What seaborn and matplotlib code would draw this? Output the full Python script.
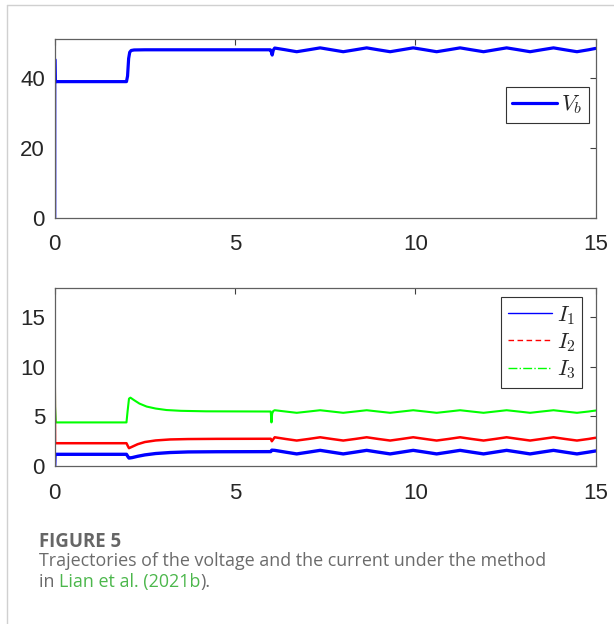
import matplotlib
matplotlib.use("Agg")
import matplotlib.pyplot as plt
from matplotlib.lines import Line2D
import seaborn as sns

### data
# common time points of the slow oscillation after t = 6
t_osc = [6.1, 6.4, 6.71, 7.04, 7.36, 7.68, 8.0, 8.33, 8.65, 8.97, 9.3, 9.62,
         9.94, 10.27, 10.59, 10.92, 11.24, 11.56, 11.89, 12.21, 12.53, 12.86,
         13.18, 13.5, 13.83, 14.15, 14.48, 14.8, 15.0]

# battery voltage V_b
t_vb = [0, 0.001, 0.01, 0.04, 1.99, 2.02, 2.05, 2.08, 2.12, 2.2, 2.5, 4.0,
        5.98, 6.0, 6.03, 6.06]
vb = [0, 45.3, 39.5, 38.9, 38.9, 40.5, 45.5, 47.3, 47.8, 47.95, 48.0, 48.0,
      48.0, 47.6, 46.5, 47.9]
vb_osc = [48.5, 48.0, 47.45, 48.0, 48.55, 48.0, 47.45, 48.0, 48.55, 48.0,
          47.45, 48.0, 48.55, 48.0, 47.45, 48.0, 48.55, 48.0, 47.45, 48.0,
          48.55, 48.0, 47.45, 48.0, 48.55, 48.0, 47.45, 48.0, 48.4]

# currents
t_i1 = [0, 0.01, 1.99, 2.03, 2.06, 2.15, 2.3, 2.5, 2.8, 3.2, 3.7, 4.5, 5.99, 6.02]
i1 = [0, 1.18, 1.18, 0.95, 0.8, 0.85, 0.98, 1.12, 1.26, 1.36, 1.42, 1.44, 1.45, 1.6]
i1_osc = [1.58, 1.4, 1.22, 1.4, 1.58, 1.4, 1.22, 1.4, 1.58, 1.4, 1.22, 1.4,
          1.58, 1.4, 1.22, 1.4, 1.58, 1.4, 1.22, 1.4, 1.58, 1.4, 1.22, 1.4,
          1.58, 1.4, 1.22, 1.4, 1.52]

t_i2 = [0, 0.001, 0.01, 1.99, 2.03, 2.06, 2.15, 2.3, 2.5, 2.8, 3.2, 3.7, 4.5,
        5.99, 6.02]
i2 = [0, 8.5, 2.3, 2.3, 2.0, 1.8, 1.95, 2.2, 2.42, 2.58, 2.68, 2.72, 2.74,
      2.75, 2.5]
i2_osc = [2.9, 2.73, 2.57, 2.73, 2.9, 2.73, 2.57, 2.73, 2.9, 2.73, 2.57, 2.73,
          2.9, 2.73, 2.57, 2.73, 2.9, 2.73, 2.57, 2.73, 2.9, 2.73, 2.57, 2.73,
          2.9, 2.73, 2.57, 2.73, 2.85]

t_i3 = [0, 0.001, 0.01, 0.03, 1.99, 2.02, 2.06, 2.1, 2.2, 2.35, 2.55, 2.8,
        3.1, 3.5, 4.2, 5.99, 6.01, 6.03, 6.06]
i3 = [0, 11.9, 6.0, 4.4, 4.4, 5.5, 6.8, 6.9, 6.65, 6.3, 6.0, 5.8, 5.65,
      5.57, 5.52, 5.5, 4.4, 5.3, 5.55]
i3_osc = [5.63, 5.5, 5.37, 5.5, 5.63, 5.5, 5.37, 5.5, 5.63, 5.5, 5.37, 5.5,
          5.63, 5.5, 5.37, 5.5, 5.63, 5.5, 5.37, 5.5, 5.63, 5.5, 5.37, 5.5,
          5.63, 5.5, 5.37, 5.5, 5.6]

x_ticks = [0, 5, 10, 15]
vb_ticks = [0, 20, 40]
i_ticks = [0, 5, 10, 15]

caption_head = "FIGURE 5"
caption_line = "Trajectories of the voltage and the current under the method"
caption_ref = "Lian et al. (2021b"

### style
sns.set_theme(style="white")
plt.rcParams['font.family'] = ['Liberation Sans', 'DejaVu Sans']
plt.rcParams['mathtext.fontset'] = 'cm'

W, H = 614, 624
fig = plt.figure(figsize=(W / 100, H / 100), dpi=100)

def box(x0, y0, x1, y1):
    # pixel box (top-left origin) -> figure fraction
    return [x0 / W, 1 - y1 / H, (x1 - x0) / W, (y1 - y0) / H]

ax1 = fig.add_axes(box(54.7, 39.3, 595.7, 217.7))
ax2 = fig.add_axes(box(54.7, 287.7, 595.7, 466.0))

sns.lineplot(x=t_vb + t_osc, y=vb + vb_osc, ax=ax1, color='#0000ff',
             linewidth=2.3, estimator=None, sort=False)

sns.lineplot(x=t_i3 + t_osc, y=i3 + i3_osc, ax=ax2, color='#00ff00',
             linewidth=1.5, estimator=None, sort=False)
sns.lineplot(x=t_i2 + t_osc, y=i2 + i2_osc, ax=ax2, color='#ff0000',
             linewidth=1.8, estimator=None, sort=False)
sns.lineplot(x=t_i1 + t_osc, y=i1 + i1_osc, ax=ax2, color='#0000ff',
             linewidth=2.4, estimator=None, sort=False)

for ax, yt, ylim in [(ax1, vb_ticks, (0, 51)), (ax2, i_ticks, (0, 18))]:
    ax.set_xlim(0, 15)
    ax.set_ylim(*ylim)
    ax.set_xticks(x_ticks)
    ax.set_yticks(yt)
    ax.set_xlabel('')
    ax.set_ylabel('')
    for s in ax.spines.values():
        s.set_color('#606060')
        s.set_linewidth(0.9)
    ax.tick_params(direction='in', length=4, width=0.8, color='#404040',
                   top=True, right=True, labelsize=16, labelcolor='#262626')
    ax.tick_params(axis='x', pad=12)
    ax.tick_params(axis='y', pad=7)

leg1 = ax1.legend(handles=[Line2D([], [], color='#0000ff', lw=2.3)],
                  labels=['$V_b$'], loc='upper right',
                  bbox_to_anchor=(0.9882, 0.7343), borderaxespad=0,
                  fancybox=False, edgecolor='#333333', framealpha=1,
                  fontsize=16, handlelength=2.0, handletextpad=0.2,
                  borderpad=0.3)
leg1.get_frame().set_linewidth(0.8)

h2 = [Line2D([], [], color='#0000ff', lw=1.0),
      Line2D([], [], color='#ff0000', lw=1.0, ls=(0, (4, 2.5))),
      Line2D([], [], color='#00ff00', lw=1.0, ls='-.')]
leg2 = ax2.legend(handles=h2, labels=['$I_1$', '$I_2$', '$I_3$'],
                  loc='upper right', bbox_to_anchor=(0.9752, 0.946),
                  borderaxespad=0, fancybox=False, edgecolor='#333333',
                  framealpha=1, fontsize=16, handlelength=2.0,
                  handletextpad=0.2, borderpad=0.3, labelspacing=0.2)
leg2.get_frame().set_linewidth(0.8)

### card border
fig.add_artist(Line2D([7.3 / W, 7.3 / W], [0, 1 - 5 / H], color='#d0d0d0', lw=1,
                      transform=fig.transFigure))
fig.add_artist(Line2D([7.3 / W, 1], [1 - 5 / H, 1 - 5 / H], color='#d0d0d0', lw=1,
                      transform=fig.transFigure))

### caption
cap = dict(family=['Open Sans', 'DejaVu Sans'], va='baseline', ha='left')
fig.text(39 / W, 1 - 546.7 / H, caption_head, fontsize=13.4, fontweight='bold',
         color='#666666', **cap)
fig.text(39 / W, 1 - 565.7 / H, caption_line, fontsize=12.85, color='#6b6b6b', **cap)

fig.canvas.draw()
r = fig.canvas.get_renderer()
t_in = fig.text(39 / W, 1 - 586.7 / H, "in ", fontsize=12.85, color='#6b6b6b', **cap)
x = t_in.get_window_extent(r).x1 / W
t_ref = fig.text(x, 1 - 586.7 / H, caption_ref, fontsize=12.85, color='#4cb74c', **cap)
x = t_ref.get_window_extent(r).x1 / W
fig.text(x, 1 - 586.7 / H, ").", fontsize=12.85, color='#6b6b6b', **cap)

fig.savefig('out.png', dpi=100)
